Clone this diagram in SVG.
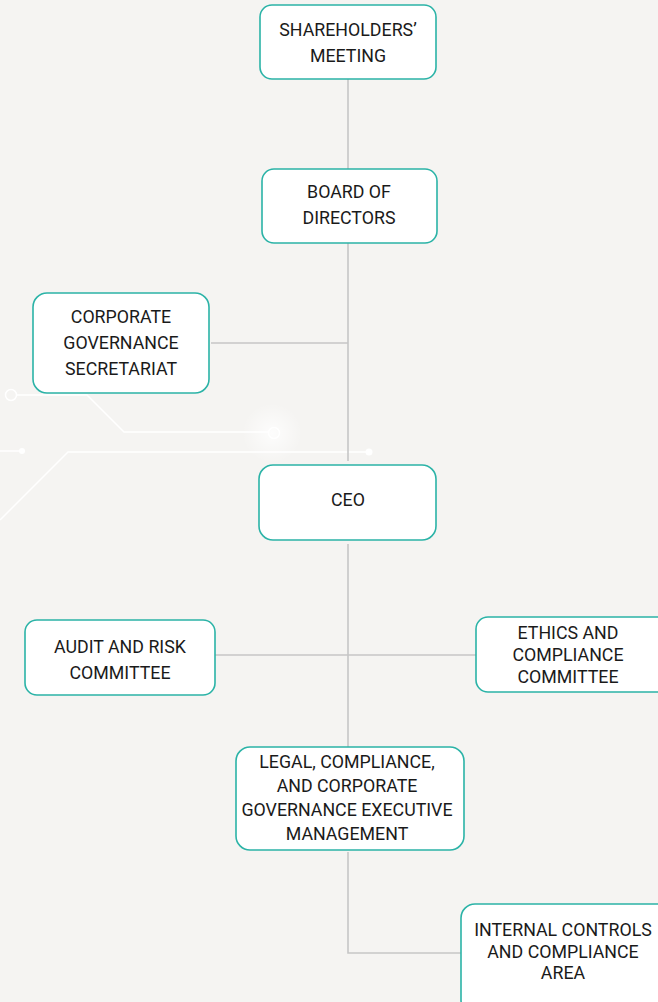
<svg xmlns="http://www.w3.org/2000/svg" width="658" height="1002" viewBox="0 0 658 1002">
<defs>
<style>
.box{fill:#ffffff;stroke:#2bb3a7;stroke-width:1.6}
.t{font-family:Roboto,"Liberation Sans",sans-serif;font-size:17.8px;fill:#1a1a1a;text-anchor:middle}
.c{fill:none;stroke:#c6c6c6;stroke-width:1.6}
.d{fill:none;stroke:#ffffff;stroke-width:1.5}
</style>
<radialGradient id="glow">
<stop offset="0" stop-color="#ffffff" stop-opacity="1"/>
<stop offset="1" stop-color="#ffffff" stop-opacity="0"/>
</radialGradient>
</defs>
<rect width="658" height="1002" fill="#f5f4f2"/>
<g id="decor">
<circle cx="272" cy="433" r="30" fill="url(#glow)" opacity="0.8"/>
<circle class="d" cx="11" cy="395" r="5.5"/>
<polyline class="d" points="16.5,395 87,395 124,432 268,432"/>
<circle class="d" cx="274" cy="433" r="5.5"/>
<line class="d" x1="0" y1="451" x2="22" y2="451"/>
<circle cx="22" cy="451" r="3" fill="#ffffff"/>
<polyline class="d" points="0,520 68,452 369,452"/>
<circle cx="369" cy="452" r="3.5" fill="#ffffff"/>
</g>
<g id="connectors">
<line class="c" x1="348" y1="79" x2="348" y2="169"/>
<line class="c" x1="348" y1="243" x2="348" y2="461"/>
<line class="c" x1="211" y1="343" x2="348" y2="343"/>
<line class="c" x1="348" y1="544" x2="348" y2="747"/>
<line class="c" x1="215" y1="655" x2="476" y2="655"/>
<polyline class="c" points="348,852 348,953 461,953"/>
</g>
<g id="shareholders">
<rect class="box" x="260" y="5" width="176" height="74" rx="12"/>
<text class="t" x="348" y="36">SHAREHOLDERS’</text>
<text class="t" x="348" y="62">MEETING</text>
</g>
<g id="board">
<rect class="box" x="262" y="169" width="175" height="74" rx="12"/>
<text class="t" x="349" y="198">BOARD OF</text>
<text class="t" x="349" y="224">DIRECTORS</text>
</g>
<g id="secretariat">
<rect class="box" x="33" y="293" width="176" height="100" rx="14"/>
<text class="t" x="121" y="323">CORPORATE</text>
<text class="t" x="121" y="349">GOVERNANCE</text>
<text class="t" x="121" y="375">SECRETARIAT</text>
</g>
<g id="ceo">
<rect class="box" x="259" y="465" width="177" height="75" rx="14"/>
<text class="t" x="348" y="506">CEO</text>
</g>
<g id="audit">
<rect class="box" x="25" y="620" width="190" height="75" rx="12"/>
<text class="t" x="120" y="653">AUDIT AND RISK</text>
<text class="t" x="120" y="679">COMMITTEE</text>
</g>
<g id="ethics">
<rect class="box" x="476" y="617" width="194" height="75" rx="12"/>
<text class="t" x="568" y="639">ETHICS AND</text>
<text class="t" x="568" y="661">COMPLIANCE</text>
<text class="t" x="568" y="683">COMMITTEE</text>
</g>
<g id="legal">
<rect class="box" x="236" y="747" width="228" height="103" rx="14"/>
<text class="t" x="347" y="768">LEGAL, COMPLIANCE,</text>
<text class="t" x="347" y="792">AND CORPORATE</text>
<text class="t" x="347" y="816">GOVERNANCE EXECUTIVE</text>
<text class="t" x="347" y="840">MANAGEMENT</text>
</g>
<g id="internal">
<rect class="box" x="461" y="904" width="210" height="110" rx="14"/>
<text class="t" x="563" y="936">INTERNAL CONTROLS</text>
<text class="t" x="563" y="958">AND COMPLIANCE</text>
<text class="t" x="563" y="979">AREA</text>
</g>
</svg>
